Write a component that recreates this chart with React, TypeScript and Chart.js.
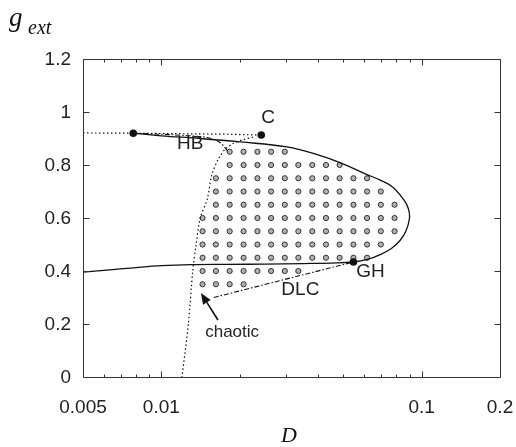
import React, { useEffect, useRef } from "react";
import { Chart, registerables } from "chart.js";
Chart.register(...registerables);

// ---- axis ticks ----
const xTickValues = [0.005, 0.01, 0.1, 0.2];
const xTickText = ["0.005", "0.01", "0.1", "0.2"];
const xMajorTicks = [0.01, 0.1];
const xMinorTicks = [0.006, 0.007, 0.008, 0.009, 0.02, 0.03, 0.04, 0.05, 0.06, 0.07, 0.08, 0.09];
const yTickValues = [0, 0.2, 0.4, 0.6, 0.8, 1, 1.2];
const yTickText = ["0", "0.2", "0.4", "0.6", "0.8", "1", "1.2"];

// ---- solid fold curve ----
const foldD = [0.005, 0.0065, 0.008, 0.010, 0.013, 0.018, 0.025, 0.035, 0.045, 0.0547, 0.062, 0.0693, 0.0765, 0.0826, 0.0872, 0.0898, 0.0888, 0.0852, 0.0773, 0.0693, 0.0617, 0.0488, 0.040, 0.0304, 0.0201, 0.0141, 0.010, 0.0078];
const foldG = [0.396, 0.405, 0.413, 0.420, 0.424, 0.425, 0.426, 0.428, 0.430, 0.434, 0.444, 0.462, 0.485, 0.515, 0.553, 0.60, 0.637, 0.670, 0.717, 0.743, 0.764, 0.808, 0.838, 0.868, 0.887, 0.90, 0.910, 0.920];

// ---- dotted horizontal line through the two upper points ----
const topDotD = [0.005, 0.0078, 0.012, 0.018, 0.0242];
const topDotG = [0.921, 0.920, 0.918, 0.916, 0.913];

// ---- dotted boundary of chaotic region ----
const chaosD = [0.0225, 0.0205, 0.0188, 0.0176, 0.0165, 0.0156, 0.0150, 0.0141, 0.0136, 0.0132, 0.0127, 0.0120];
const chaosG = [0.905, 0.895, 0.88, 0.86, 0.82, 0.76, 0.67, 0.60, 0.50, 0.40, 0.20, 0.0];

// ---- HB dash-dot line ----
const hbD = [0.0078, 0.011, 0.0150, 0.0168, 0.0181];
const hbG = [0.92, 0.914, 0.904, 0.885, 0.849];

// ---- DLC dash-dot line ----
const dlcD = [0.0159, 0.0547];
const dlcG = [0.30, 0.434];

// ---- special points ----
const ptD = [0.0078, 0.0242, 0.0547];
const ptG = [0.92, 0.913, 0.434];

// ---- grid of simulated (chaotic) points ----
const gridD = [0.0144, 0.0162, 0.0183, 0.0207, 0.0234, 0.0264, 0.0298, 0.0336, 0.0380, 0.0429, 0.0484, 0.0547, 0.0617, 0.0697, 0.0787];
const gridG = [0.85, 0.80, 0.75, 0.70, 0.65, 0.60, 0.55, 0.50, 0.45, 0.40, 0.35];
const rowStart = [2, 2, 1, 1, 1, 0, 0, 0, 0, 0, 0];
const rowEnd = [6, 10, 12, 13, 14, 14, 14, 13, 12, 7, 3];

// ---- annotations ----
const annText = ["C", "HB", "GH", "DLC", "chaotic"];
const annD = [0.0257, 0.0129, 0.0636, 0.0342, 0.0187];
const annG = [0.977, 0.879, 0.396, 0.328, 0.170];
const arrowFrom = [0.0165, 0.215];
const arrowTo = [0.0142, 0.317];

const zip = (xs: number[], ys: number[]) => xs.map((x, i) => ({ x, y: ys[i] }));

function gridPoints() {
  const pts: { x: number; y: number }[] = [];
  gridG.forEach((g, r) => {
    for (let k = rowStart[r]; k <= rowEnd[r]; k++) pts.push({ x: gridD[k], y: g });
  });
  return pts;
}

const SANS = "'Liberation Sans', Arial, sans-serif";
const SERIF = "'Liberation Serif', 'Times New Roman', serif";

const overlay = {
  id: "overlay",
  afterDraw(chart: any) {
    const ctx = chart.ctx;
    const xs = chart.scales.x;
    const ys = chart.scales.y;
    const a = chart.chartArea;
    const L = Math.round(a.left) + 0.5;
    const R = Math.round(a.right) + 0.5;
    const T = Math.round(a.top) + 0.5;
    const B = Math.round(a.bottom) + 0.5;
    ctx.save();
    ctx.strokeStyle = "#333";
    ctx.lineWidth = 1;
    ctx.setLineDash([]);
    ctx.strokeRect(L, T, R - L, B - T);
    const major = 6;
    const minor = 3;
    ctx.beginPath();
    yTickValues.forEach((v) => {
      const py = Math.round(ys.getPixelForValue(v)) + 0.5;
      ctx.moveTo(L, py); ctx.lineTo(L + major, py);
      ctx.moveTo(R, py); ctx.lineTo(R - major, py);
    });
    xMajorTicks.forEach((v) => {
      const px = Math.round(xs.getPixelForValue(v)) + 0.5;
      ctx.moveTo(px, B); ctx.lineTo(px, B - major);
      ctx.moveTo(px, T); ctx.lineTo(px, T + major);
    });
    xMinorTicks.forEach((v) => {
      const px = Math.round(xs.getPixelForValue(v)) + 0.5;
      ctx.moveTo(px, B); ctx.lineTo(px, B - minor);
      ctx.moveTo(px, T); ctx.lineTo(px, T + minor);
    });
    ctx.stroke();

    ctx.fillStyle = "#222";
    ctx.font = `19px ${SANS}`;
    ctx.textAlign = "right";
    ctx.textBaseline = "middle";
    yTickValues.forEach((v, i) => {
      ctx.fillText(yTickText[i], a.left - 12, ys.getPixelForValue(v) + 1);
    });
    ctx.textAlign = "center";
    xTickValues.forEach((v, i) => {
      ctx.fillText(xTickText[i], xs.getPixelForValue(v), a.bottom + 31);
    });

    annText.forEach((t, i) => {
      ctx.font = t === "chaotic" ? `17px ${SANS}` : `19px ${SANS}`;
      ctx.fillText(t, xs.getPixelForValue(annD[i]), ys.getPixelForValue(annG[i]));
    });

    // arrow
    const x0 = xs.getPixelForValue(arrowFrom[0]);
    const y0 = ys.getPixelForValue(arrowFrom[1]);
    const x1 = xs.getPixelForValue(arrowTo[0]);
    const y1 = ys.getPixelForValue(arrowTo[1]);
    const ang = Math.atan2(y1 - y0, x1 - x0);
    const hl = 11, hw = 4.5;
    const bx = x1 - hl * Math.cos(ang), by = y1 - hl * Math.sin(ang);
    ctx.strokeStyle = "#111";
    ctx.lineWidth = 1.6;
    ctx.beginPath();
    ctx.moveTo(x0, y0); ctx.lineTo(bx, by);
    ctx.stroke();
    ctx.fillStyle = "#111";
    ctx.beginPath();
    ctx.moveTo(x1, y1);
    ctx.lineTo(bx + hw * Math.sin(ang), by - hw * Math.cos(ang));
    ctx.lineTo(bx - hw * Math.sin(ang), by + hw * Math.cos(ang));
    ctx.closePath();
    ctx.fill();

    // axis titles
    ctx.fillStyle = "#111";
    ctx.textAlign = "left";
    ctx.textBaseline = "alphabetic";
    ctx.font = `italic 27px ${SERIF}`;
    ctx.fillText("g", 9, 26);
    ctx.font = `italic 20px ${SERIF}`;
    ctx.fillText("ext", 28, 34);
    ctx.textAlign = "center";
    ctx.font = `italic 22px ${SERIF}`;
    ctx.fillText("D", 289, 442);
    ctx.restore();
  },
};

export default function App() {
  const ref = useRef<HTMLCanvasElement | null>(null);
  useEffect(() => {
    if (!ref.current) return;
    const dotted = [1.5, 2.5];
    const dashDot = [5, 2, 1.5, 2];
    const lineDs = (data: any[], dash: number[], width: number, tension = 0.3) => ({
      data,
      showLine: true,
      borderColor: "#111",
      borderWidth: width,
      borderDash: dash,
      pointRadius: 0,
      tension,
      fill: false,
    });
    const chart = new Chart(ref.current, {
      type: "scatter",
      data: {
        datasets: [
          {
            data: zip(ptD, ptG),
            showLine: false,
            pointRadius: 3.8,
            pointBackgroundColor: "#111",
            pointBorderColor: "#111",
            pointBorderWidth: 0,
          } as any,
          lineDs(zip(foldD, foldG), [], 1.3, 0.4),
          lineDs(zip(topDotD, topDotG), dotted, 1.2, 0),
          lineDs(zip(chaosD, chaosG), dotted, 1.2, 0.3),
          lineDs(zip(hbD, hbG), dashDot, 1.1, 0.3),
          lineDs(zip(dlcD, dlcG), dashDot, 1.1, 0),
          {
            data: gridPoints(),
            showLine: false,
            pointRadius: 2.6,
            pointBackgroundColor: "#b0b0b0",
            pointBorderColor: "#333",
            pointBorderWidth: 1,
          } as any,
        ],
      },
      options: {
        responsive: false,
        animation: false,
        layout: { padding: { top: 59, right: 16, left: 0, bottom: 0 } },
        plugins: { legend: { display: false }, tooltip: { enabled: false } },
        scales: {
          x: {
            type: "logarithmic",
            min: 0.005,
            max: 0.2,
            ticks: { display: false },
            grid: { display: false },
            border: { display: false },
            afterFit: (s: any) => { s.height = 70; },
          },
          y: {
            type: "linear",
            min: 0,
            max: 1.2,
            ticks: { display: false },
            grid: { display: false },
            border: { display: false },
            afterFit: (s: any) => { s.width = 83; },
          },
        },
      } as any,
      plugins: [overlay],
    });
    return () => chart.destroy();
  }, []);
  return (
    <div style={{ position: "absolute", left: 0, top: 0, width: 516, height: 447, background: "#fff" }}>
      <canvas ref={ref} width={516} height={447} style={{ width: 516, height: 447, display: "block" }} />
    </div>
  );
}
